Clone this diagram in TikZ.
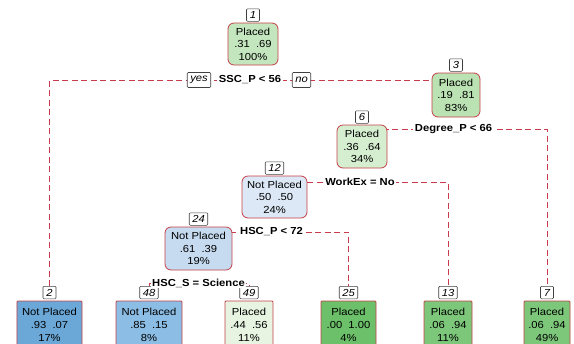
\documentclass[tikz,border=0pt]{standalone}
\usepackage{fontspec}
\setmainfont{Liberation Sans}[FakeStretch=1.1]
\pgfdeclarelayer{background}
\pgfsetlayers{background,main}
\definecolor{bord}{RGB}{196,64,72}
\definecolor{brc}{RGB}{200,60,78}
\definecolor{gA}{RGB}{196,230,190}
\definecolor{gB}{RGB}{186,226,178}
\definecolor{gC}{RGB}{214,238,208}
\definecolor{bA}{RGB}{220,232,245}
\definecolor{bB}{RGB}{198,219,239}
\definecolor{lA}{RGB}{107,168,216}
\definecolor{lB}{RGB}{140,189,228}
\definecolor{lC}{RGB}{230,244,225}
\definecolor{lD}{RGB}{108,192,106}
\definecolor{lE}{RGB}{125,199,122}
\tikzset{
  tnode/.style={draw=bord, line width=0.8bp, rounded corners=6bp, inner sep=0pt, align=center,
     font=\fontsize{10.2bp}{12.5bp}\selectfont},
  leafbox/.style={draw=bord, line width=0.8bp, rounded corners=1bp, inner sep=0pt, align=center,
     minimum height=48bp, font=\fontsize{10.2bp}{12.8bp}\selectfont},
  numlab/.style={draw=black!75, line width=0.6bp, fill=white, rounded corners=1bp, inner xsep=3bp, inner ysep=0pt,
     minimum width=13bp, minimum height=12.5bp, font=\fontsize{10.2bp}{12bp}\selectfont\itshape, anchor=south},
  splitlab/.style={fill=white, inner xsep=1.5bp, inner ysep=1bp, font=\fontsize{10.2bp}{12bp}\selectfont\bfseries},
  yesno/.style={draw=black!75, line width=0.6bp, fill=white, rounded corners=1bp, inner xsep=3bp, inner ysep=0pt,
     minimum height=15bp, font=\fontsize{10.2bp}{12bp}\selectfont\itshape},
  branch/.style={draw=brc, line width=1bp, dash pattern=on 6bp off 3.5bp}
}
\begin{document}
\begin{tikzpicture}[x=1bp,y=-1bp]
\useasboundingbox (0,0) rectangle (574,343);
\clip (0,0) rectangle (574,343);
% internal nodes
\node[tnode, fill=gA, minimum width=50bp, minimum height=42bp] (N1) at (253,44) {Placed\\.31\ \ .69\\100\%};
\node[tnode, fill=gB, minimum width=48bp, minimum height=44bp] (N3) at (456,95) {Placed\\.19\ \ .81\\83\%};
\node[tnode, fill=gC, minimum width=50bp, minimum height=43bp] (N6) at (362,146.5) {Placed\\.36\ \ .64\\34\%};
\node[tnode, fill=bA, minimum width=65bp, minimum height=42bp] (N12) at (274.5,197) {Not Placed\\.50\ \ .50\\24\%};
\node[tnode, fill=bB, minimum width=67bp, minimum height=43bp] (N24) at (198.5,248.5) {Not Placed\\.61\ \ .39\\19\%};
% leaves
\node[leafbox, fill=lA, minimum width=65bp] (L2) at (49.5,325) {Not Placed\\.93\ \ .07\\17\%};
\node[leafbox, fill=lB, minimum width=66bp] (L48) at (149,325) {Not Placed\\.85\ \ .15\\8\%};
\node[leafbox, fill=lC, minimum width=48bp] (L49) at (249,325) {Placed\\.44\ \ .56\\11\%};
\node[leafbox, fill=lD, minimum width=55bp] (L25) at (348.5,325) {Placed\\.00\ \ 1.00\\4\%};
\node[leafbox, fill=lE, minimum width=48bp] (L13) at (448,325) {Placed\\.06\ \ .94\\11\%};
\node[leafbox, fill=lE, minimum width=46bp] (L7) at (547,325) {Placed\\.06\ \ .94\\49\%};
% number labels
\node[numlab] (N1l) at ([yshift=1bp]N1.north) {1};
\node[numlab] (N3l) at ([yshift=1bp]N3.north) {3};
\node[numlab] (N6l) at ([yshift=1bp]N6.north) {6};
\node[numlab] (N12l) at ([yshift=1bp]N12.north) {12};
\node[numlab] (N24l) at ([yshift=1bp]N24.north) {24};
\node[numlab] (L2l) at ([yshift=1.5bp]L2.north) {2};
\node[numlab] (L48l) at ([yshift=1.5bp]L48.north) {48};
\node[numlab] (L49l) at ([yshift=1.5bp]L49.north) {49};
\node[numlab] (L25l) at ([yshift=1.5bp]L25.north) {25};
\node[numlab] (L13l) at ([yshift=1.5bp]L13.north) {13};
\node[numlab] (L7l) at ([yshift=1.5bp]L7.north) {7};
% split labels
\node[splitlab] (s1) at (250,80) {SSC\_P < 56};
\node[yesno] (yes) at (199,80) {yes};
\node[yesno] (no) at (301.5,80) {no};
\node[splitlab] (s3) at (453.5,129) {Degree\_P < 66};
\node[splitlab] (s6) at (360,182) {WorkEx = No};
\node[splitlab] (s12) at (271.5,232) {HSC\_P < 72};
\node[splitlab] (s24) at (198.5,283) {HSC\_S = Science};
% branches
\begin{pgfonlayer}{background}
\draw[branch] (L2l.north) |- (s1.center) -| (N3.center);
\draw[branch] (N6.center) |- (s3.center) -| (L7l.north);
\draw[branch] (N12.center) |- (s6.center) -| (L13l.north);
\draw[branch] (N24.center) |- (s12.center) -| (L25l.north);
\draw[branch] (L48l.north) |- (s24.center) -| (L49l.north);
\end{pgfonlayer}
\end{tikzpicture}
\end{document}
